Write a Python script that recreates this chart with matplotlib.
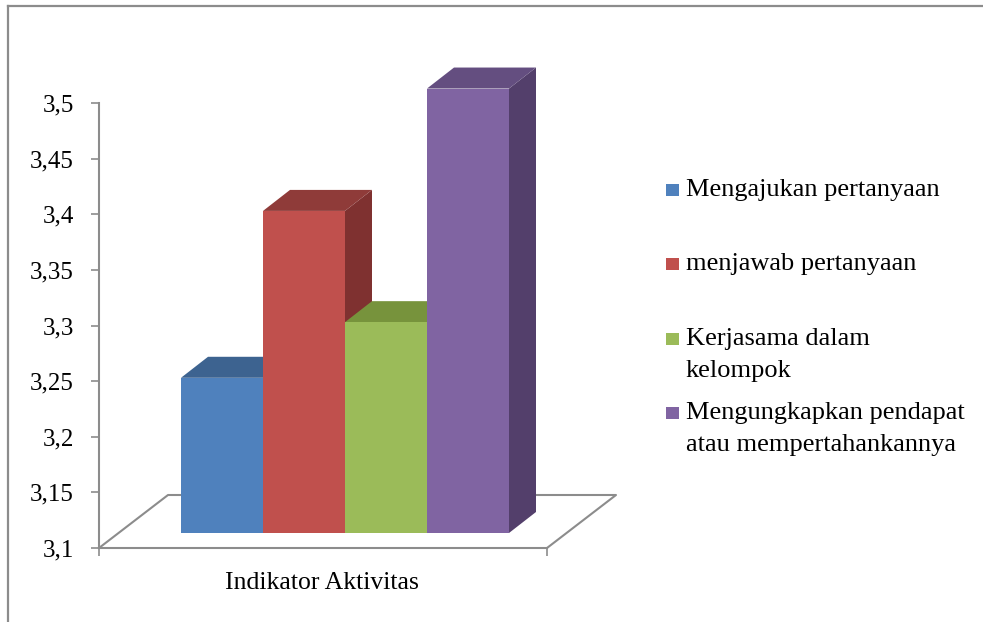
import numpy as np
import matplotlib
matplotlib.use("Agg")
import matplotlib.pyplot as plt
from matplotlib.patches import Polygon, Rectangle
from matplotlib.lines import Line2D

plt.rcParams['font.family'] = ['Liberation Serif', 'DejaVu Serif']

# ── Data ──────────────────────────────────────────────────────────────────────
kategori = ["Mengajukan pertanyaan",
            "menjawab pertanyaan",
            "Kerjasama dalam\nkelompok",
            "Mengungkapkan pendapat\natau mempertahankannya"]
nilai = [3.25, 3.40, 3.30, 3.51]
warna_depan = ["#4F81BD", "#C0504D", "#9BBB59", "#8064A2"]
warna_atas = ["#3D6390", "#8F3B39", "#77933C", "#644E80"]
warna_samping = ["#2F4D71", "#7F3130", "#5F7630", "#533F6B"]
yticks = [3.1, 3.15, 3.2, 3.25, 3.3, 3.35, 3.4, 3.45, 3.5]
ytick_labels = ["3,1", "3,15", "3,2", "3,25", "3,3", "3,35", "3,4", "3,45", "3,5"]
xlabel = "Indikator Aktivitas"

# ── Layout (pixels) ───────────────────────────────────────────────────────────
W, H = 983, 622
ABU = "#8C8C8C"


def fx(x):
    return x / W


def fy(y):
    return 1 - y / H


fig = plt.figure(figsize=(W / 100, H / 100), dpi=100)
ax = fig.add_axes([fx(99), fy(548), (547 - 99) / W, (548 - 103) / H])
ax.set_xlim(0, 448)
ax.set_ylim(3.1, 3.5)
ppv = 445 / 0.4  # pixel per satuan nilai

# lantai 3D
fd_x, fd_y = 69, 53 / ppv
ax.plot([0, fd_x, 448 + fd_x, 448], [3.1, 3.1 + fd_y, 3.1 + fd_y, 3.1],
        color=ABU, lw=1.5, clip_on=False, zorder=1)

# batang 3D
dx, dy = 27, 21 / ppv
lebar = 82
dasar = 3.1 + 15 / ppv
for i, v in enumerate(nilai):
    x0 = 82 + lebar * i
    atas = v + 0.003
    ax.add_patch(Polygon([(x0 + lebar, dasar), (x0 + lebar + dx, dasar + dy),
                          (x0 + lebar + dx, atas + dy), (x0 + lebar, atas)],
                         closed=True, facecolor=warna_samping[i], edgecolor="none",
                         clip_on=False, zorder=3 + 3 * i))
    ax.add_patch(Polygon([(x0, atas), (x0 + lebar, atas),
                          (x0 + lebar + dx, atas + dy), (x0 + dx, atas + dy)],
                         closed=True, facecolor=warna_atas[i], edgecolor="none",
                         clip_on=False, zorder=4 + 3 * i))
    ax.bar(x0, atas - dasar, width=lebar, bottom=dasar, align="edge",
           color=warna_depan[i], clip_on=False, zorder=5 + 3 * i)

# sumbu
for s in ["top", "right"]:
    ax.spines[s].set_visible(False)
for s in ["left", "bottom"]:
    ax.spines[s].set_color(ABU)
    ax.spines[s].set_linewidth(1.5)
ax.set_yticks(yticks)
ax.set_yticklabels(ytick_labels, fontsize=18)
ax.set_xticks([0, 448])
ax.set_xticklabels(["", ""])
ax.tick_params(axis="both", direction="out", length=6, width=1.2, color=ABU)
ax.tick_params(axis="y", pad=12)
ax.patch.set_visible(False)

fig.text(fx(322), fy(583), xlabel, ha="center", va="center", fontsize=18.5)

# legenda manual
baseline = [196, 270, 345, 419]
for i, label in enumerate(kategori):
    b = baseline[i]
    fig.patches.append(Rectangle((fx(666), fy(b)), 13 / W, 12 / H,
                                 transform=fig.transFigure,
                                 facecolor=warna_depan[i], edgecolor="none"))
    for k, baris in enumerate(label.split("\n")):
        fig.text(fx(686), fy(b + 32 * k), baris, ha="left", va="baseline",
                 fontsize=19)

# bingkai
fig.lines.append(Line2D([fx(8), fx(8)], [fy(6), 0], transform=fig.transFigure,
                        color=ABU, lw=1.6))
fig.lines.append(Line2D([fx(8), 1], [fy(6), fy(6)], transform=fig.transFigure,
                        color=ABU, lw=1.6))

fig.savefig("out.png", dpi=100)
